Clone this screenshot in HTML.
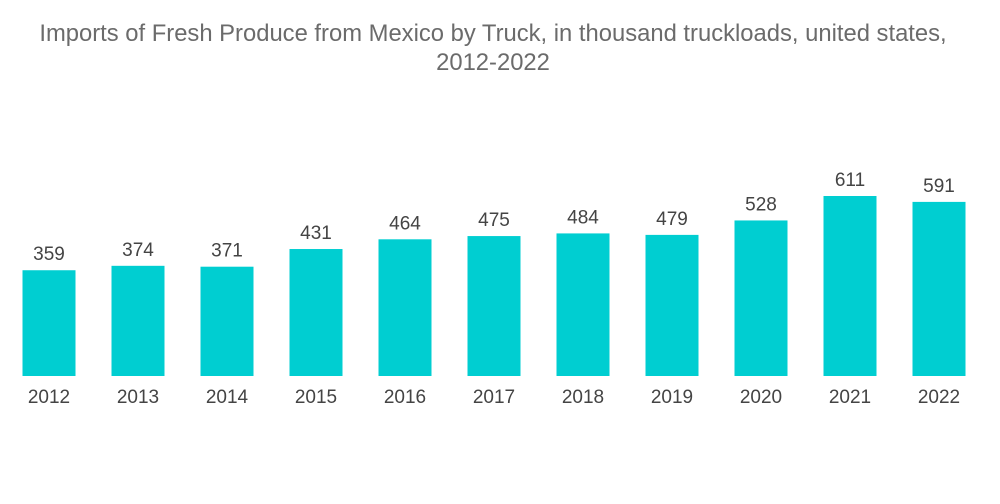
<!DOCTYPE html>
<html><head><meta charset="utf-8"><style>
body{margin:0;background:#fff;}
svg{display:block;font-family:"Liberation Sans",sans-serif;}
</style></head><body>
<svg id="chart" width="1000" height="504">
<text x="493" y="41" text-anchor="middle" font-size="23.8" fill="#6b6b6b">Imports of Fresh Produce from Mexico by Truck, in thousand truckloads, united states,</text>
<text x="493" y="70" text-anchor="middle" font-size="23.8" fill="#6b6b6b">2012-2022</text>
<g id="bars"></g>
</svg>
<script>
const categories=["2012","2013","2014","2015","2016","2017","2018","2019","2020","2021","2022"];
const values=[359,374,371,431,464,475,484,479,528,611,591];
const baseY=376, scale=180/611, x0=49, step=89, barW=53;
function xPos(i){return x0+i*step;}
function yPos(v){return baseY-v*scale;}
const g=document.getElementById('bars');
const NS="http://www.w3.org/2000/svg";
categories.forEach((c,i)=>{
  const r=document.createElementNS(NS,'rect');
  r.setAttribute('x',xPos(i)-barW/2);r.setAttribute('y',yPos(values[i]));
  r.setAttribute('width',barW);r.setAttribute('height',baseY-yPos(values[i]));
  r.setAttribute('fill','#00ced1');
  
  
  g.appendChild(r);
  const t=document.createElementNS(NS,'text');
  t.setAttribute('x',xPos(i));t.setAttribute('y',yPos(values[i])-10);
  t.setAttribute('text-anchor','middle');t.setAttribute('font-size','19');t.setAttribute('fill','#444');
  t.textContent=values[i];
  
  
  g.appendChild(t);
  const l=document.createElementNS(NS,'text');
  l.setAttribute('x',xPos(i));l.setAttribute('y',403);
  l.setAttribute('text-anchor','middle');l.setAttribute('font-size','19');l.setAttribute('fill','#444');
  l.textContent=c;
  
  
  g.appendChild(l);
});
</script>
</body></html>
